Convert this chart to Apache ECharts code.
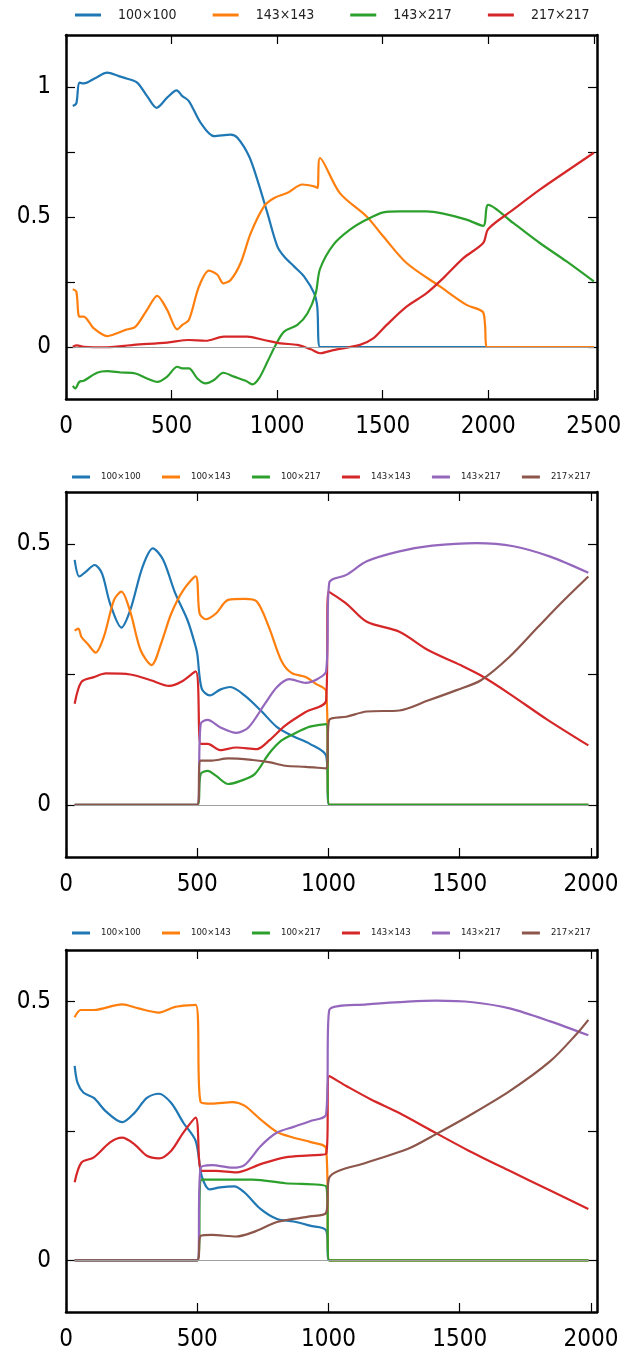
<!DOCTYPE html>
<html>
<head>
<meta charset="utf-8">
<script src="https://cdn.jsdelivr.net/npm/echarts@6/dist/echarts.min.js"></script>
<style>
html,body{margin:0;padding:0;background:#fff;}
#chart{width:640px;height:1352px;}
</style>
</head>
<body>
<div id="chart"></div>
<script>
// ---------- tick values ----------
const X_TICKS_1 = [0, 500, 1000, 1500, 2000, 2500];
const X_TICKS_23 = [0, 500, 1000, 1500, 2000];
const Y_TICKS_1 = [0, 0.25, 0.5, 0.75, 1];
const Y_LABELS_1 = [0, 0.5, 1];
const Y_TICKS_23 = [0, 0.25, 0.5];
const Y_LABELS_23 = [0, 0.5];

// ---------- legend names ----------
const NAMES_1 = ['100×100', '143×143', '143×217', '217×217'];
const NAMES_23 = ['100×100', '100×143', '100×217', '143×143', '143×217', '217×217'];

// ---------- chart 1 data ----------
const c1_100x100 = [[32,0.927],[49,0.937],[63,1.017],[84,1.014],[140,1.035],[195,1.055],[250,1.042],[290,1.032],[337,1.017],[384,0.965],[429,0.920],[479,0.959],[524,0.987],[551,0.965],[582,0.946],[638,0.862],[701,0.811],[780,0.817],[812,0.805],[867,0.734],[906,0.644],[954,0.515],[1001,0.387],[1033,0.348],[1080,0.310],[1128,0.271],[1175,0.207],[1190,0.155],[1203,0],[2500,0]];
const c1_143x143 = [[32,0.222],[49,0.213],[63,0.117],[84,0.117],[131,0.072],[195,0.042],[242,0.053],[282,0.066],[329,0.078],[384,0.143],[432,0.197],[479,0.143],[527,0.068],[551,0.085],[582,0.104],[630,0.233],[677,0.294],[717,0.278],[745,0.245],[780,0.258],[827,0.323],[875,0.438],[938,0.541],[986,0.573],[1049,0.593],[1120,0.625],[1175,0.618],[1191,0.612],[1203,0.727],[1297,0.592],[1424,0.502],[1503,0.425],[1613,0.323],[1771,0.233],[1897,0.162],[1973,0.136],[1984,0.091],[1995,0],[2500,0]];
const c1_143x217 = [[32,-0.150],[44,-0.159],[63,-0.134],[84,-0.130],[147,-0.099],[195,-0.093],[258,-0.098],[329,-0.102],[384,-0.121],[432,-0.134],[479,-0.114],[527,-0.076],[551,-0.082],[582,-0.082],[622,-0.121],[661,-0.140],[701,-0.127],[745,-0.099],[796,-0.114],[851,-0.130],[883,-0.144],[914,-0.121],[954,-0.057],[993,0.008],[1033,0.059],[1096,0.085],[1144,0.130],[1183,0.207],[1203,0.300],[1266,0.393],[1345,0.451],[1424,0.490],[1503,0.518],[1582,0.522],[1708,0.522],[1787,0.513],[1897,0.490],[1976,0.466],[2000,0.547],[2118,0.477],[2244,0.400],[2371,0.329],[2500,0.252]];
const c1_217x217 = [[32,0.001],[52,0.006],[84,0.001],[195,-0.001],[321,0.008],[479,0.017],[582,0.027],[661,0.024],[748,0.040],[859,0.040],[938,0.027],[1017,0.014],[1096,0.008],[1160,-0.009],[1203,-0.024],[1266,-0.012],[1392,0.008],[1455,0.033],[1519,0.085],[1613,0.155],[1708,0.207],[1787,0.265],[1882,0.342],[1976,0.400],[2000,0.454],[2118,0.528],[2244,0.605],[2371,0.676],[2500,0.747]];

// ---------- chart 2 data ----------
const c2_100x100 = [[33,0.470],[51,0.438],[75,0.447],[109,0.460],[137,0.444],[168,0.386],[211,0.340],[245,0.374],[292,0.457],[331,0.492],[370,0.470],[416,0.406],[463,0.354],[491,0.309],[500,0.290],[517,0.223],[548,0.210],[587,0.221],[626,0.226],[680,0.210],[742,0.181],[804,0.149],[867,0.131],[929,0.117],[991,0.094],[1003,0],[1990,0]];
const c2_100x143 = [[33,0.334],[47,0.338],[59,0.322],[82,0.309],[113,0.292],[144,0.322],[183,0.393],[211,0.409],[245,0.370],[284,0.297],[326,0.268],[362,0.309],[401,0.367],[447,0.412],[494,0.438],[509,0.367],[533,0.356],[571,0.367],[618,0.393],[680,0.395],[727,0.390],[773,0.341],[820,0.277],[859,0.253],[913,0.245],[952,0.232],[991,0.218],[1003,0],[1990,0]];
const c2_100x217 = [[33,0],[500,0],[513,0.059],[540,0.065],[571,0.056],[618,0.040],[665,0.046],[719,0.059],[773,0.098],[820,0.123],[867,0.136],[929,0.150],[991,0.155],[1003,0],[1990,0]];
const c2_143x143 = [[33,0.194],[59,0.236],[106,0.245],[152,0.252],[245,0.250],[323,0.239],[393,0.228],[439,0.236],[494,0.256],[513,0.117],[540,0.117],[587,0.105],[649,0.110],[727,0.107],[773,0.123],[835,0.152],[913,0.178],[991,0.200],[1000,0.409],[1068,0.386],[1146,0.351],[1270,0.332],[1379,0.297],[1503,0.268],[1581,0.248],[1690,0.213],[1829,0.165],[1990,0.114]];
const c2_143x217 = [[33,0],[500,0],[513,0.155],[540,0.163],[587,0.149],[649,0.138],[696,0.149],[758,0.194],[804,0.226],[851,0.241],[913,0.234],[960,0.242],[991,0.256],[1003,0.426],[1068,0.441],[1146,0.467],[1270,0.486],[1395,0.497],[1565,0.502],[1705,0.496],[1845,0.476],[1990,0.445]];
const c2_217x217 = [[33,0],[500,0],[513,0.085],[556,0.085],[618,0.089],[711,0.086],[773,0.082],[835,0.075],[913,0.073],[991,0.070],[1003,0.163],[1068,0.169],[1146,0.179],[1270,0.181],[1379,0.200],[1488,0.220],[1581,0.239],[1690,0.284],[1798,0.341],[1892,0.390],[1990,0.438]];

// ---------- chart 3 data ----------
const c3_100x100 = [[33,0.376],[44,0.343],[67,0.324],[106,0.314],[152,0.288],[214,0.267],[261,0.285],[308,0.314],[354,0.322],[401,0.304],[447,0.266],[494,0.231],[517,0.163],[548,0.137],[587,0.141],[641,0.143],[680,0.131],[742,0.099],[804,0.080],[867,0.075],[929,0.067],[991,0.058],[1003,0],[1990,0]];
const c3_100x143 = [[33,0.470],[56,0.484],[106,0.484],[214,0.495],[276,0.487],[354,0.479],[416,0.490],[494,0.494],[513,0.306],[556,0.303],[634,0.306],[680,0.299],[742,0.272],[804,0.248],[867,0.237],[929,0.229],[991,0.216],[1003,0],[1990,0]];
const c3_100x217 = [[33,0],[500,0],[517,0.156],[618,0.156],[711,0.156],[835,0.149],[991,0.143],[1003,0],[1990,0]];
const c3_143x143 = [[33,0.151],[59,0.189],[106,0.199],[168,0.228],[214,0.237],[261,0.224],[308,0.202],[354,0.197],[401,0.212],[447,0.247],[494,0.276],[517,0.173],[571,0.173],[649,0.170],[742,0.186],[835,0.199],[929,0.203],[991,0.206],[1003,0.356],[1068,0.337],[1162,0.311],[1270,0.285],[1395,0.250],[1534,0.212],[1690,0.173],[1845,0.135],[1990,0.099]];
const c3_143x217 = [[33,0],[500,0],[513,0.179],[556,0.184],[634,0.179],[680,0.184],[742,0.221],[804,0.247],[867,0.258],[929,0.269],[991,0.282],[1003,0.484],[1146,0.495],[1301,0.500],[1410,0.502],[1550,0.499],[1690,0.487],[1845,0.462],[1990,0.435]];
const c3_217x217 = [[33,0],[500,0],[513,0.047],[556,0.049],[649,0.046],[711,0.054],[804,0.074],[867,0.080],[929,0.085],[991,0.092],[1003,0.160],[1146,0.189],[1301,0.215],[1410,0.244],[1534,0.279],[1690,0.327],[1845,0.385],[1946,0.438],[1990,0.465]];

// ---------- styling ----------
const COLORS = ['#1f77b4', '#ff7f0e', '#2ca02c', '#d62728', '#9467bd', '#8c564b'];
const FONT = '"DejaVu Sans Condensed", "Liberation Sans Narrow", "DejaVu Sans", sans-serif';

const GRIDS = [
  {left: 66, top: 35, width: 531, height: 364},
  {left: 66, top: 492, width: 531, height: 365},
  {left: 66, top: 950, width: 531, height: 363}
];
const XMAX = [2515, 2023, 2023];
const YMIN = [-0.2, -0.1, -0.1];
const YMAX = [1.2, 0.6, 0.6];

const plainNum = v => String(v);

function xAxisPair(gi, xticks) {
  const base = {
    gridIndex: gi, type: 'value', min: 0, max: XMAX[gi],
    splitLine: {show: false},
    axisLine: {show: true, onZero: false, lineStyle: {color: '#000', width: 2.5}},
    axisTick: {show: true, inside: true, length: 9, customValues: xticks, lineStyle: {color: '#000', width: 1.2}}
  };
  return [
    Object.assign({}, base, {position: 'bottom',
      axisLabel: {show: true, customValues: xticks, formatter: plainNum, fontSize: 24, color: '#000', fontFamily: FONT, margin: 16}}),
    Object.assign({}, base, {position: 'top', axisLabel: {show: false}})
  ];
}
function yAxisPair(gi, yticks, ylabels) {
  const base = {
    gridIndex: gi, type: 'value', min: YMIN[gi], max: YMAX[gi],
    splitLine: {show: false},
    axisLine: {show: true, onZero: false, lineStyle: {color: '#000', width: 2.5}},
    axisTick: {show: true, inside: true, length: 9, customValues: yticks, lineStyle: {color: '#000', width: 1.2}}
  };
  return [
    Object.assign({}, base, {position: 'left',
      axisLabel: {show: true, customValues: ylabels, formatter: plainNum, fontSize: 24, color: '#000', fontFamily: FONT, margin: 15}}),
    Object.assign({}, base, {position: 'right', axisLabel: {show: false}})
  ];
}

const xAxes = [].concat(xAxisPair(0, X_TICKS_1), xAxisPair(1, X_TICKS_23), xAxisPair(2, X_TICKS_23));
const yAxes = [].concat(yAxisPair(0, Y_TICKS_1, Y_LABELS_1), yAxisPair(1, Y_TICKS_23, Y_LABELS_23), yAxisPair(2, Y_TICKS_23, Y_LABELS_23));

function mkSeries(gi, name, data, color, zeroEnd) {
  const s = {
    type: 'line', name: name + '#' + gi, data: data,
    xAxisIndex: gi * 2, yAxisIndex: gi * 2,
    showSymbol: false, symbol: 'none',
    smooth: 0.3,
    lineStyle: {color: color, width: 2.2},
    itemStyle: {color: color},
    emphasis: {disabled: true},
    animation: false
  };
  if (zeroEnd) {
    s.markLine = {
      silent: true, symbol: ['none', 'none'], label: {show: false}, animation: false,
      lineStyle: {color: '#a0a0a0', width: 1, type: 'solid'},
      data: [[{coord: [data[0][0], 0]}, {coord: [zeroEnd, 0]}]]
    };
  }
  return s;
}

const series = [
  mkSeries(0, NAMES_1[0], c1_100x100, COLORS[0], 2500),
  mkSeries(0, NAMES_1[1], c1_143x143, COLORS[1]),
  mkSeries(0, NAMES_1[2], c1_143x217, COLORS[2]),
  mkSeries(0, NAMES_1[3], c1_217x217, COLORS[3]),
  mkSeries(1, NAMES_23[0], c2_100x100, COLORS[0], 1990),
  mkSeries(1, NAMES_23[1], c2_100x143, COLORS[1]),
  mkSeries(1, NAMES_23[2], c2_100x217, COLORS[2]),
  mkSeries(1, NAMES_23[3], c2_143x143, COLORS[3]),
  mkSeries(1, NAMES_23[4], c2_143x217, COLORS[4]),
  mkSeries(1, NAMES_23[5], c2_217x217, COLORS[5]),
  mkSeries(2, NAMES_23[0], c3_100x100, COLORS[0], 1990),
  mkSeries(2, NAMES_23[1], c3_100x143, COLORS[1]),
  mkSeries(2, NAMES_23[2], c3_100x217, COLORS[2]),
  mkSeries(2, NAMES_23[3], c3_143x143, COLORS[3]),
  mkSeries(2, NAMES_23[4], c3_143x217, COLORS[4]),
  mkSeries(2, NAMES_23[5], c3_217x217, COLORS[5])
];

const strip = n => n.split('#')[0];
const legends = [
  {data: NAMES_1.map(n => n + '#0'), left: 70, top: 3, itemWidth: 26, itemHeight: 3, itemGap: 36,
   icon: 'rect', formatter: strip, selectedMode: false,
   textStyle: {fontSize: 14, color: '#222', fontFamily: FONT, padding: [0, 0, 0, 12]}},
  {data: NAMES_23.map(n => n + '#1'), left: 67, top: 467, itemWidth: 18, itemHeight: 3, itemGap: 21.2,
   icon: 'rect', formatter: strip, selectedMode: false,
   textStyle: {fontSize: 9.5, color: '#222', fontFamily: FONT, padding: [0, 0, 0, 6]}},
  {data: NAMES_23.map(n => n + '#2'), left: 67, top: 923, itemWidth: 18, itemHeight: 3, itemGap: 21.2,
   icon: 'rect', formatter: strip, selectedMode: false,
   textStyle: {fontSize: 9.5, color: '#222', fontFamily: FONT, padding: [0, 0, 0, 6]}}
];

const chart = echarts.init(document.getElementById('chart'), null, {renderer: 'canvas'});
chart.setOption({
  animation: false,
  backgroundColor: '#fff',
  grid: GRIDS,
  xAxis: xAxes,
  yAxis: yAxes,
  legend: legends,
  series: series
});
</script>
</body>
</html>
